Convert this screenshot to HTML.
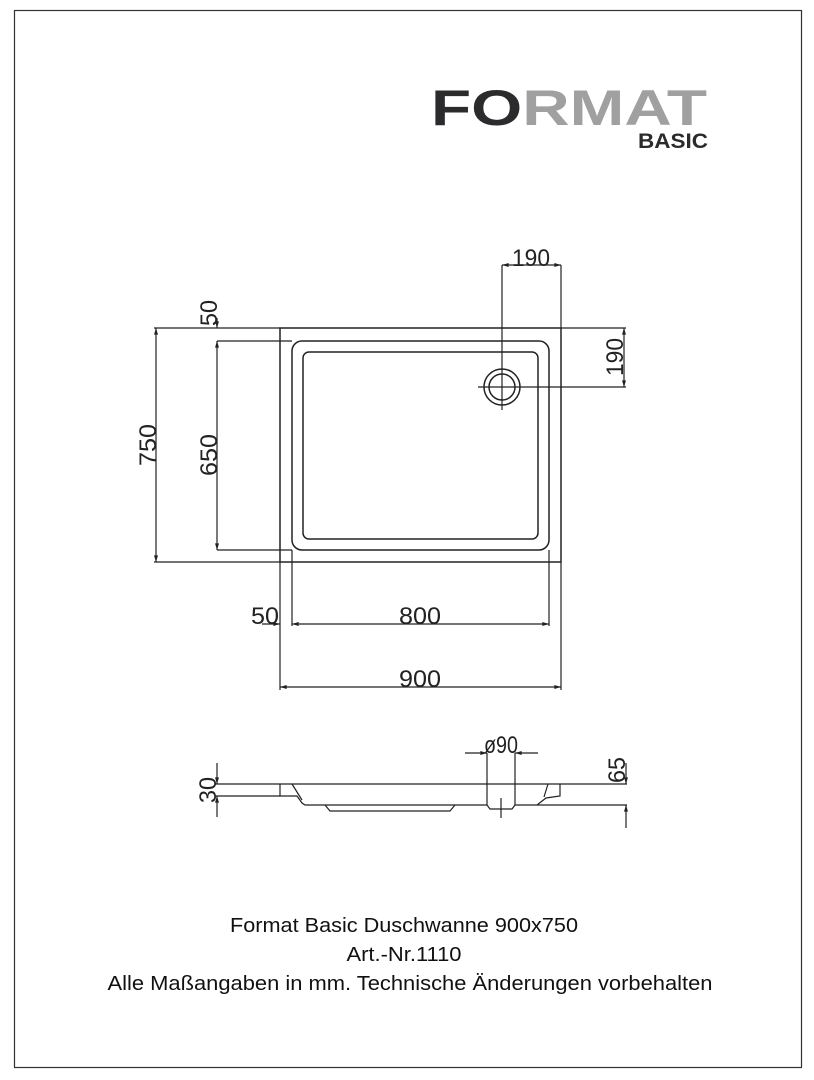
<!DOCTYPE html>
<html><head><meta charset="utf-8"><style>
html,body{margin:0;padding:0;background:#fff;}
svg{display:block}
</style></head><body>
<svg width="814" height="1080" viewBox="0 0 814 1080" xmlns="http://www.w3.org/2000/svg" font-family="Liberation Sans, sans-serif">
<defs>
<marker id="a" viewBox="0 0 10 6" refX="10" refY="3" markerWidth="10" markerHeight="4" orient="auto-start-reverse" markerUnits="userSpaceOnUse"><path d="M0,0 L10,3 L0,6 Z" fill="#222"/></marker>
</defs>
<rect x="14.5" y="10.5" width="787" height="1057" fill="none" stroke="#333" stroke-width="1.2"/>
<!-- logo -->
<text x="431" y="125" font-size="50" font-weight="bold" fill="#2b2b2e" textLength="276" lengthAdjust="spacingAndGlyphs">F<tspan fill="#2b2b2e">O</tspan><tspan fill="#a0a0a0">RMAT</tspan></text>
<text x="638" y="148" font-size="21" font-weight="bold" fill="#2b2b2e" textLength="70" lengthAdjust="spacingAndGlyphs">BASIC</text>
<g fill="none" stroke="#222" stroke-width="1.5">
<rect x="280" y="328" width="281" height="234"/>
<rect x="292" y="341" width="257" height="209" rx="10"/>
<rect x="303" y="352" width="235" height="187" rx="6"/>
<circle cx="502" cy="387" r="18"/>
<circle cx="502" cy="387" r="13"/>
</g>
<g stroke="#222" stroke-width="1.2" fill="none">
<line x1="502" y1="265" x2="502" y2="410"/>
<line x1="561" y1="265" x2="561" y2="328"/>
<line x1="502" y1="265" x2="561" y2="265" marker-start="url(#a)" marker-end="url(#a)"/>
<line x1="561" y1="328" x2="626" y2="328"/>
<line x1="478" y1="387" x2="626" y2="387"/>
<line x1="624" y1="328" x2="624" y2="387" marker-start="url(#a)" marker-end="url(#a)"/>
<line x1="154" y1="328" x2="280" y2="328"/>
<line x1="154" y1="562" x2="280" y2="562"/>
<line x1="156" y1="328" x2="156" y2="562" marker-start="url(#a)" marker-end="url(#a)"/>
<line x1="217" y1="341" x2="292" y2="341"/>
<line x1="217" y1="550" x2="292" y2="550"/>
<line x1="217" y1="341" x2="217" y2="550" marker-start="url(#a)" marker-end="url(#a)"/>
<line x1="217" y1="318" x2="217" y2="328" marker-end="url(#a)"/>
<line x1="292" y1="550" x2="292" y2="626"/>
<line x1="549" y1="550" x2="549" y2="626"/>
<line x1="280" y1="562" x2="280" y2="690"/>
<line x1="561" y1="562" x2="561" y2="690"/>
<line x1="292" y1="624" x2="549" y2="624" marker-start="url(#a)" marker-end="url(#a)"/>
<line x1="262" y1="624" x2="280" y2="624" marker-end="url(#a)"/>
<line x1="280" y1="687" x2="561" y2="687" marker-start="url(#a)" marker-end="url(#a)"/>
</g>
<g font-size="24" fill="#222" text-anchor="middle">
<text x="531" y="266" textLength="38" lengthAdjust="spacingAndGlyphs">190</text>
<text transform="translate(623,357) rotate(-90)" textLength="38" lengthAdjust="spacingAndGlyphs">190</text>
<text transform="translate(156,445) rotate(-90)" textLength="42" lengthAdjust="spacingAndGlyphs">750</text>
<text transform="translate(217,455) rotate(-90)" textLength="42" lengthAdjust="spacingAndGlyphs">650</text>
<text transform="translate(217,313) rotate(-90)" textLength="26" lengthAdjust="spacingAndGlyphs">50</text>
<text x="265" y="624" textLength="28" lengthAdjust="spacingAndGlyphs">50</text>
<text x="420" y="624" textLength="42" lengthAdjust="spacingAndGlyphs">800</text>
<text x="420" y="687" textLength="42" lengthAdjust="spacingAndGlyphs">900</text>
<text x="501" y="753" textLength="34" lengthAdjust="spacingAndGlyphs">ø90</text>
<text transform="translate(216,790) rotate(-90)" textLength="26" lengthAdjust="spacingAndGlyphs">30</text>
<text transform="translate(625,770) rotate(-90)" textLength="26" lengthAdjust="spacingAndGlyphs">65</text>
</g>
<!-- side view -->
<g stroke="#222" stroke-width="1.2" fill="none">
<line x1="215" y1="784" x2="627" y2="784"/>
<line x1="215" y1="796" x2="280" y2="796"/>
<line x1="537" y1="805" x2="627" y2="805"/>
<path d="M280,784 L280,796 L294,796 L297,796 L302,803 L305,805 L487,805 M292,784 L302,800"/>
<path d="M325,805 L330,811 L450,811 L455,805"/>
<path d="M515,805 L537,805 L546,798 L560,796 L560,784 M548,784 L544,797"/>
<line x1="487" y1="753" x2="487" y2="805"/>
<line x1="515" y1="753" x2="515" y2="805"/>
<path d="M487,805 L490,809 L512,809 L515,805"/>
<line x1="501" y1="798" x2="501" y2="818"/>
<line x1="465" y1="753" x2="487" y2="753" marker-end="url(#a)"/>
<line x1="538" y1="753" x2="515" y2="753" marker-end="url(#a)"/>
<line x1="217" y1="763" x2="217" y2="784" marker-end="url(#a)"/>
<line x1="217" y1="817" x2="217" y2="796" marker-end="url(#a)"/>
<line x1="626" y1="763" x2="626" y2="784" marker-end="url(#a)"/>
<line x1="626" y1="828" x2="626" y2="805" marker-end="url(#a)"/>
</g>
<g font-size="20" fill="#111" text-anchor="middle">
<text x="404" y="932" textLength="348" lengthAdjust="spacingAndGlyphs">Format Basic Duschwanne 900x750</text>
<text x="404" y="961" textLength="115" lengthAdjust="spacingAndGlyphs">Art.-Nr.1110</text>
<text x="410" y="990" textLength="605" lengthAdjust="spacingAndGlyphs">Alle Maßangaben in mm. Technische Änderungen vorbehalten</text>
</g>
</svg>
</body></html>
